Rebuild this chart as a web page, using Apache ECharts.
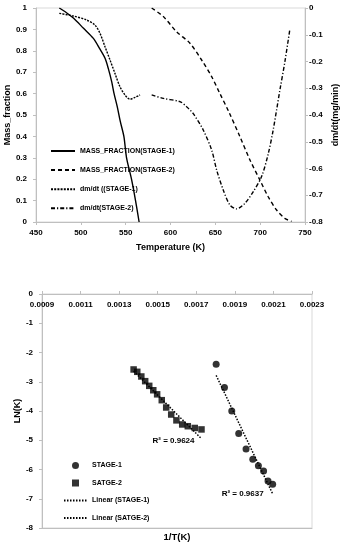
<!DOCTYPE html>
<html><head><meta charset="utf-8">
<script src="https://cdn.jsdelivr.net/npm/echarts@6/dist/echarts.min.js"></script>
<style>html,body{margin:0;padding:0;background:#fff}#c{width:343px;height:550px}</style>
</head><body><div id="c"></div>
<script>
// ---------- Top chart data ----------
var tempTicks = [450, 500, 550, 600, 650, 700, 750];
var massStage1 = [[476,1.0],[484,0.978],[492,0.952],[503,0.905],[514,0.858],[521,0.81],[527,0.765],[530.6,0.718],[534.4,0.656],[537,0.601],[540.6,0.539],[544,0.47],[548,0.40],[551,0.30],[556.5,0.20],[561,0.10],[565,0.0]];
var massStage2 = [[579,1.0],[592,0.96],[606.8,0.889],[621.7,0.835],[634.7,0.757],[645.9,0.679],[655,0.601],[665,0.515],[677.4,0.399],[688.6,0.29],[699.7,0.196],[709,0.118],[718.3,0.056],[727.5,0.017],[735,0.003]];
var rateStage1 = [[476,-0.02],[491.6,-0.03],[506.5,-0.045],[515.8,-0.064],[521.4,-0.095],[527,-0.145],[532.5,-0.194],[538,-0.244],[543.6,-0.294],[549.2,-0.325],[554.8,-0.341],[560.4,-0.334],[566,-0.325]];
var rateStage2 = [[579,-0.325],[592,-0.338],[610.5,-0.35],[618,-0.369],[625.4,-0.395],[636.5,-0.456],[645.9,-0.531],[651.5,-0.606],[658.8,-0.68],[666.2,-0.736],[673.7,-0.751],[683,-0.73],[692.2,-0.687],[701.6,-0.63],[709,-0.545],[714.5,-0.456],[722,-0.307],[727.6,-0.2],[733,-0.082]];
// ---------- Bottom chart data ----------
var invTTicks = ['0.0009','0.0011','0.0013','0.0015','0.0017','0.0019','0.0021','0.0023'];
var stage1Pts = [[0.001803,-2.40],[0.001846,-3.20],[0.001884,-4.00],[0.00192,-4.77],[0.001958,-5.30],[0.001993,-5.65],[0.002022,-5.87],[0.002049,-6.05],[0.002072,-6.39],[0.002096,-6.50]];
var stage2Pts = [[0.001375,-2.58],[0.001394,-2.66],[0.001415,-2.82],[0.001435,-2.98],[0.001456,-3.14],[0.001477,-3.29],[0.001497,-3.43],[0.001521,-3.63],[0.001544,-3.88],[0.00157,-4.12],[0.001597,-4.32],[0.001627,-4.46],[0.001656,-4.52],[0.001692,-4.58],[0.001727,-4.63]];
var r2Labels = ['R\u00b2 = 0.9637', 'R\u00b2 = 0.9624'];

function fit(pts){
  var n=pts.length,sx=0,sy=0,sxx=0,sxy=0;
  pts.forEach(function(p){sx+=p[0];sy+=p[1];sxx+=p[0]*p[0];sxy+=p[0]*p[1];});
  var b=(n*sxy-sx*sy)/(n*sxx-sx*sx), a=(sy-b*sx)/n;
  var x0=pts[0][0], x1=pts[n-1][0];
  return [[x0,a+b*x0],[x1,a+b*x1]];
}
var trend1 = fit(stage1Pts), trend2 = fit(stage2Pts);

var FONT = '"Liberation Sans", Arial, sans-serif';
var axisGray = '#bfbfbf';
var lbl = {color:'#000', fontWeight:'bold', fontSize:8, fontFamily:FONT};
var nameSt = {color:'#000', fontWeight:'bold', fontSize:9, fontFamily:FONT};
function ln(type){ return {color:'#000', width:1.4, type:type}; }
var noSym = {opacity:0};

var chart = echarts.init(document.getElementById('c'), null, {renderer:'canvas'});
chart.setOption({
  animation:false,
  backgroundColor:'#fff',
  grid:[
    {left:36, top:8, width:269, height:214, show:true, borderColor:'#d9d9d9', borderWidth:1, containLabel:false, outerBoundsMode:'none'},
    {left:42, top:294, width:270, height:234, show:true, borderColor:'#d9d9d9', borderWidth:1, containLabel:false, outerBoundsMode:'none'}
  ],
  xAxis:[
    {gridIndex:0, type:'value', min:tempTicks[0], max:tempTicks[tempTicks.length-1], interval:50,
     axisLine:{lineStyle:{color:axisGray}}, axisTick:{show:true,length:3,lineStyle:{color:axisGray}},
     splitLine:{show:false}, axisLabel:Object.assign({margin:7}, lbl),
     name:'Temperature (K)', nameLocation:'middle', nameGap:21, nameMoveOverlap:false, nameTextStyle:nameSt},
    {gridIndex:1, type:'value', position:'top', min:0.0009, max:0.0023, interval:0.0002,
     axisLine:{onZero:false, lineStyle:{color:axisGray}}, axisTick:{show:true,length:3,lineStyle:{color:axisGray}},
     splitLine:{show:false},
     axisLabel:Object.assign({inside:true, margin:7, formatter:function(v){var s=v.toFixed(4); return invTTicks.indexOf(s)>=0?s:'';}}, lbl)},
    {gridIndex:1, type:'value', position:'bottom', min:0.0009, max:0.0023,
     axisLine:{onZero:false, lineStyle:{color:axisGray}}, axisTick:{show:false}, axisLabel:{show:false}, splitLine:{show:false},
     name:'1/T(K)', nameLocation:'middle', nameGap:9, nameMoveOverlap:false, nameTextStyle:Object.assign({}, nameSt, {fontSize:9.5, verticalAlign:'middle'})}
  ],
  yAxis:[
    {gridIndex:0, type:'value', min:0, max:1, interval:0.1, position:'left',
     axisLine:{show:true, lineStyle:{color:axisGray}}, axisTick:{show:true,length:3,lineStyle:{color:axisGray}},
     splitLine:{show:false}, axisLabel:Object.assign({margin:9}, lbl),
     name:'Mass_fraction', nameLocation:'middle', nameGap:24, nameRotate:90, nameMoveOverlap:false, nameTextStyle:nameSt},
    {gridIndex:0, type:'value', min:-0.8, max:0, interval:0.1, position:'right',
     axisLine:{show:true, lineStyle:{color:axisGray}}, axisTick:{show:true,length:3,lineStyle:{color:axisGray}},
     splitLine:{show:false}, axisLabel:Object.assign({margin:4}, lbl),
     name:'dm/dt(mg/min)', nameLocation:'middle', nameGap:26, nameRotate:90, nameMoveOverlap:false, nameTextStyle:nameSt},
    {gridIndex:1, type:'value', min:-8, max:0, interval:1, position:'left',
     axisLine:{show:true, onZero:false, lineStyle:{color:axisGray}}, axisTick:{show:true,length:3,lineStyle:{color:axisGray}},
     splitLine:{show:false}, axisLabel:Object.assign({margin:9}, lbl),
     name:'LN(K)', nameLocation:'middle', nameGap:20, nameRotate:90, nameMoveOverlap:false, nameTextStyle:nameSt}
  ],
  legend:[
    {left:50, top:147.5, padding:0, orient:'vertical', itemWidth:24, itemHeight:8, itemGap:12.1,
     textStyle:{color:'#000', fontWeight:'bold', fontSize:7, fontFamily:FONT},
     data:[{name:'MASS_FRACTION(STAGE-1)', itemStyle:noSym},{name:'MASS_FRACTION(STAGE-2)', itemStyle:noSym},
           {name:'dm/dt ((STAGE-1)', itemStyle:noSym},{name:'dm/dt(STAGE-2)', itemStyle:noSym}]},
    {left:63, top:462, padding:0, orient:'vertical', itemWidth:23, itemHeight:7, itemGap:10.5,
     textStyle:{color:'#000', fontWeight:'bold', fontSize:7, fontFamily:FONT},
     data:[{name:'STAGE-1'},{name:'SATGE-2', icon:'path://M0,0L10,0L10,10L0,10Z'},
           {name:'Linear (STAGE-1)', itemStyle:noSym},{name:'Linear (SATGE-2)', itemStyle:noSym}]}
  ],
  series:[
    {name:'MASS_FRACTION(STAGE-1)', type:'line', xAxisIndex:0, yAxisIndex:0, data:massStage1, smooth:0.3, symbol:'none', lineStyle:ln('solid'), itemStyle:{color:'#000'}},
    {name:'MASS_FRACTION(STAGE-2)', type:'line', xAxisIndex:0, yAxisIndex:0, data:massStage2, smooth:0.3, symbol:'none', lineStyle:ln([4,3]), itemStyle:{color:'#000'}},
    {name:'dm/dt ((STAGE-1)', type:'line', xAxisIndex:0, yAxisIndex:1, data:rateStage1, smooth:0.3, symbol:'none', lineStyle:ln([2,1.2]), itemStyle:{color:'#000'}},
    {name:'dm/dt(STAGE-2)', type:'line', xAxisIndex:0, yAxisIndex:1, data:rateStage2, smooth:0.3, symbol:'none', lineStyle:ln([4,2,1.2,2]), itemStyle:{color:'#000'}},
    {name:'STAGE-1', type:'scatter', xAxisIndex:1, yAxisIndex:2, data:stage1Pts, symbol:'circle', symbolSize:7, itemStyle:{color:'#000'}, z:3},
    {name:'SATGE-2', type:'scatter', xAxisIndex:1, yAxisIndex:2, data:stage2Pts, symbol:'rect', symbolSize:6.5, itemStyle:{color:'#000'}, z:3},
    {name:'Linear (STAGE-1)', type:'line', xAxisIndex:1, yAxisIndex:2, symbol:'circle', symbolSize:0, showSymbol:true,
     lineStyle:{color:'#000', width:1.5, type:[1.5,1.5]}, itemStyle:{color:'#000'}, z:4,
     data:[{value:trend1[0]},{value:trend1[1], label:{show:true, position:'left', distance:9, formatter:r2Labels[0], color:'#000', fontWeight:'bold', fontSize:8, fontFamily:FONT}}]},
    {name:'Linear (SATGE-2)', type:'line', xAxisIndex:1, yAxisIndex:2, symbol:'circle', symbolSize:0, showSymbol:true,
     lineStyle:{color:'#000', width:1.5, type:[1.5,1.5]}, itemStyle:{color:'#000'}, z:4,
     data:[{value:trend2[0]},{value:trend2[1], label:{show:true, position:'left', distance:7, offset:[0,2], formatter:r2Labels[1], color:'#000', fontWeight:'bold', fontSize:8, fontFamily:FONT}}]}
  ]
});
</script></body></html>
